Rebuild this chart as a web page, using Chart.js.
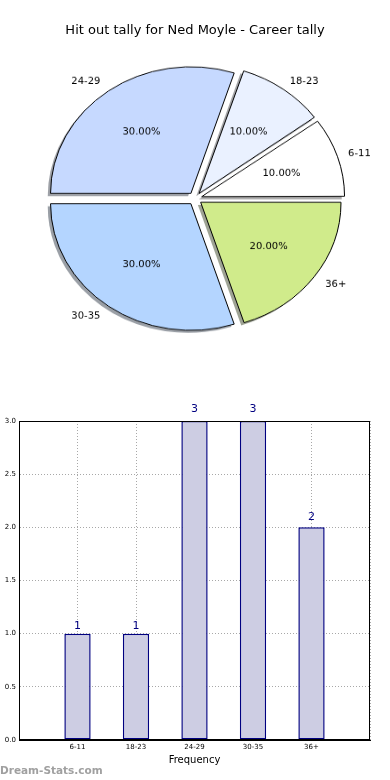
<!DOCTYPE html>
<html><head><meta charset="utf-8">
<script src="https://cdn.jsdelivr.net/npm/chart.js@4.4.0/dist/chart.umd.min.js"></script>
<style>
html,body{margin:0;padding:0;background:#fff;width:390px;height:780px;overflow:hidden;position:relative;font-family:'DejaVu Sans',sans-serif;}
#title{position:absolute;left:0;top:22px;width:390px;text-align:center;font-size:13px;line-height:16px;color:#000;}
#pie{position:absolute;left:0;top:0;width:390px;height:361px;}
#bar{position:absolute;left:0;top:380px;width:390px;height:400px;}
#wm{position:absolute;left:0;top:763px;font-size:10.5px;line-height:14px;font-weight:bold;color:#a0a0a0;}
</style></head><body>
<canvas id="pie" width="390" height="400" style="width:390px;height:361px"></canvas>
<div id="title">Hit out tally for Ned Moyle - Career tally</div>
<canvas id="bar" width="390" height="400" style="width:390px;height:400px"></canvas>
<div id="wm">Dream-Stats.com</div>
<script>
// ---- data ----
const categories = ['6-11', '18-23', '24-29', '30-35', '36+'];
const tallies = [1, 1, 3, 3, 2];
const sliceColors = ['#ffffff', '#eaf1ff', '#c6d9ff', '#b4d5ff', '#d0eb8b'];
const yTickValues = [0, 0.5, 1, 1.5, 2, 2.5, 3];

const FONT = "'DejaVu Sans', sans-serif";
const SQUASH = 361 / 400;   // pie drawn as an ellipse (matplotlib non-equal axes)
const EXPLODE = 28;         // chart.js arc offset (translation = offset/4)

function rgbOf(hex){const n=parseInt(hex.slice(1),16);return [(n>>16)&255,(n>>8)&255,n&255];}

function arcGeom(arc){
  const p = arc.getProps(['x','y','startAngle','endAngle','outerRadius']);
  const o = (arc.options.offset || 0) / 4;
  const mid = (p.startAngle + p.endAngle) / 2;
  const circ = p.endAngle - p.startAngle;
  const fix = 1 - Math.sin(Math.min(Math.PI, circ));
  return {x:p.x, y:p.y, s:p.startAngle, e:p.endAngle, R:p.outerRadius, o, mid, rOff:o*fix};
}

function uprightText(ctx, txt, x, y, align){
  ctx.save();
  ctx.translate(x, y);
  ctx.scale(1, 1 / SQUASH);
  ctx.textAlign = align;
  ctx.textBaseline = 'middle';
  ctx.fillText(txt, 0, 0);
  ctx.restore();
}

const pieDecor = {
  id: 'pieDecor',
  beforeDatasetsDraw(chart){
    const ctx = chart.ctx;
    const meta = chart.getDatasetMeta(0);
    const ds = chart.data.datasets[0];
    meta.data.forEach((arc, j) => {
      const g = arcGeom(arc);
      const c = rgbOf(ds.backgroundColor[j]);
      ctx.save();
      ctx.translate(Math.cos(g.mid) * g.o - 2.8, Math.sin(g.mid) * g.o + 2.8);
      ctx.beginPath();
      ctx.moveTo(g.x, g.y);
      ctx.arc(g.x, g.y, g.R + g.rOff, g.s, g.e);
      ctx.closePath();
      ctx.fillStyle = `rgba(${Math.round(c[0]*0.3)},${Math.round(c[1]*0.3)},${Math.round(c[2]*0.3)},0.5)`;
      ctx.fill();
      ctx.restore();
    });
  },
  afterDatasetsDraw(chart){
    const ctx = chart.ctx;
    const meta = chart.getDatasetMeta(0);
    const ds = chart.data.datasets[0];
    const total = ds.data.reduce((a, b) => a + b, 0);
    ctx.save();
    ctx.fillStyle = '#000';
    ctx.font = `10px ${FONT}`;
    meta.data.forEach((arc, j) => {
      const g = arcGeom(arc);
      const cx = g.x + Math.cos(g.mid) * g.o;
      const cy = g.y + Math.sin(g.mid) * g.o;
      const pct = (ds.data[j] / total * 100).toFixed(2) + '%';
      uprightText(ctx, pct, cx + Math.cos(g.mid) * 0.6 * g.R, cy + Math.sin(g.mid) * 0.6 * g.R, 'center');
      uprightText(ctx, chart.data.labels[j], cx + Math.cos(g.mid) * 1.1 * g.R, cy + Math.sin(g.mid) * 1.1 * g.R,
        Math.cos(g.mid) >= 0 ? 'left' : 'right');
    });
    ctx.restore();
  }
};

// pie goes clockwise in Chart.js; matplotlib goes counter-clockwise from 3 o'clock
const pieIdx = categories.map((c, i) => i).reverse();
new Chart(document.getElementById('pie'), {
  type: 'pie',
  data: {
    labels: pieIdx.map(i => categories[i]),
    datasets: [{
      data: pieIdx.map(i => tallies[i]),
      backgroundColor: pieIdx.map(i => sliceColors[i]),
      borderColor: '#000',
      borderWidth: 1,
      offset: EXPLODE,
      hoverOffset: EXPLODE,
      radius: 140
    }]
  },
  options: {
    responsive: false,
    animation: false,
    events: [],
    rotation: 90,
    radius: 140,
    layout: {padding: {top: 40, bottom: 0, left: 0, right: 0}},
    plugins: {legend: {display: false}, tooltip: {enabled: false}, title: {display: false}}
  },
  plugins: [pieDecor]
});

// ---- bar chart ----
const barLabels = [''].concat(categories, ['']);
const barData = [null].concat(tallies, [null]);

const frame = {
  id: 'frame',
  afterDraw(chart){
    const a = chart.chartArea, ctx = chart.ctx;
    ctx.save();
    ctx.strokeStyle = '#000';
    ctx.lineWidth = 1;
    ctx.strokeRect(a.left + 0.5, a.top + 0.5, a.right - a.left - 1, a.bottom - a.top - 1);
    ctx.restore();
  }
};
const valueLabels = {
  id: 'valueLabels',
  afterDraw(chart){
    const ctx = chart.ctx;
    const ys = chart.scales.y;
    const meta = chart.getDatasetMeta(0);
    ctx.save();
    ctx.fillStyle = '#000080';
    ctx.font = `11px ${FONT}`;
    ctx.textAlign = 'center';
    ctx.textBaseline = 'bottom';
    meta.data.forEach((bar, i) => {
      const v = barData[i];
      if (v == null) return;
      ctx.fillText(String(v), bar.x, ys.getPixelForValue(v * 1.02));
    });
    ctx.restore();
  }
};

new Chart(document.getElementById('bar'), {
  type: 'bar',
  data: {
    labels: barLabels,
    datasets: [{
      data: barData,
      backgroundColor: '#cdcde3',
      borderColor: '#000080',
      borderWidth: 1.5,
      borderSkipped: false,
      categoryPercentage: 1,
      barPercentage: 0.45
    }]
  },
  options: {
    responsive: false,
    animation: false,
    events: [],
    layout: {padding: {top: 41, left: 0, right: 20, bottom: 0}},
    plugins: {legend: {display: false}, tooltip: {enabled: false}},
    scales: {
      x: {
        z: 1,
        offset: false,
        grid: {offset: false, color: '#a8a8a8', lineWidth: 1, drawTicks: false},
        border: {display: true, color: '#000', width: 1, dash: [1, 2]},
        ticks: {font: {family: FONT, size: 7}, color: '#000', padding: 3, maxRotation: 0, autoSkip: false},
        title: {display: true, text: 'Frequency', font: {family: FONT, size: 10}, color: '#000', padding: {top: 0, bottom: 14}},
        afterFit(s){ s.height = 40; }
      },
      y: {
        z: 1,
        min: 0, max: 3,
        afterBuildTicks(s){ s.ticks = yTickValues.map(v => ({value: v})); },
        grid: {color: '#a8a8a8', lineWidth: 1, drawTicks: false},
        border: {display: true, color: '#000', width: 1, dash: [1, 2]},
        ticks: {font: {family: FONT, size: 7}, color: '#000', padding: 3, callback: v => Number(v).toFixed(1)},
        afterFit(s){ s.width = 19; }
      }
    }
  },
  plugins: [frame, valueLabels]
});
</script>
</body></html>
